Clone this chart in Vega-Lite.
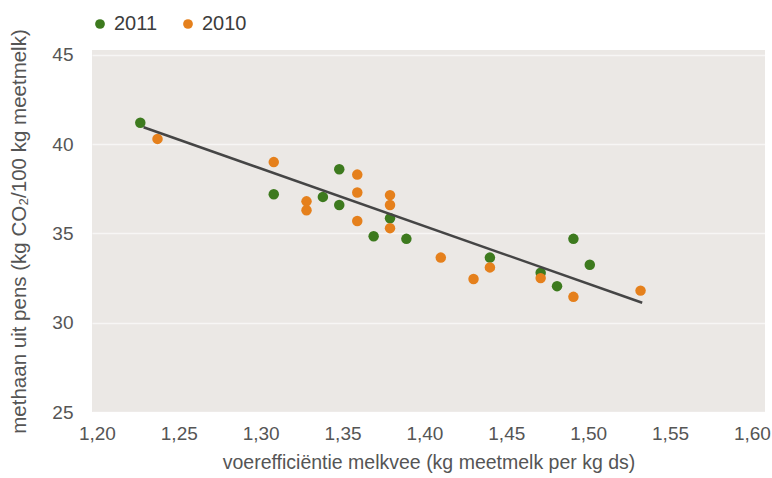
{
  "$schema": "https://vega.github.io/schema/vega-lite/v6.json",
  "width": 673,
  "height": 362,
  "autosize": {"type": "none"},
  "padding": {"left": 92, "top": 50, "right": 7, "bottom": 66},
  "background": "white",
  "config": {
    "view": {"fill": "#ebe8e5", "stroke": null},
    "font": "Liberation Sans"
  },
  "datasets": {
    "punten": [
      {"ve": 1.2265, "methaan": 41.2, "jaar": "2011"},
      {"ve": 1.308, "methaan": 37.2, "jaar": "2011"},
      {"ve": 1.338, "methaan": 37.05, "jaar": "2011"},
      {"ve": 1.348, "methaan": 38.6, "jaar": "2011"},
      {"ve": 1.348, "methaan": 36.6, "jaar": "2011"},
      {"ve": 1.369, "methaan": 34.85, "jaar": "2011"},
      {"ve": 1.379, "methaan": 35.85, "jaar": "2011"},
      {"ve": 1.389, "methaan": 34.7, "jaar": "2011"},
      {"ve": 1.44, "methaan": 33.65, "jaar": "2011"},
      {"ve": 1.471, "methaan": 32.8, "jaar": "2011"},
      {"ve": 1.481, "methaan": 32.05, "jaar": "2011"},
      {"ve": 1.491, "methaan": 34.7, "jaar": "2011"},
      {"ve": 1.501, "methaan": 33.25, "jaar": "2011"},
      {"ve": 1.237, "methaan": 40.3, "jaar": "2010"},
      {"ve": 1.308, "methaan": 39.0, "jaar": "2010"},
      {"ve": 1.328, "methaan": 36.8, "jaar": "2010"},
      {"ve": 1.328, "methaan": 36.3, "jaar": "2010"},
      {"ve": 1.359, "methaan": 38.3, "jaar": "2010"},
      {"ve": 1.359, "methaan": 37.3, "jaar": "2010"},
      {"ve": 1.359, "methaan": 35.7, "jaar": "2010"},
      {"ve": 1.379, "methaan": 37.15, "jaar": "2010"},
      {"ve": 1.379, "methaan": 36.6, "jaar": "2010"},
      {"ve": 1.379, "methaan": 35.3, "jaar": "2010"},
      {"ve": 1.41, "methaan": 33.65, "jaar": "2010"},
      {"ve": 1.43, "methaan": 32.45, "jaar": "2010"},
      {"ve": 1.44, "methaan": 33.1, "jaar": "2010"},
      {"ve": 1.471, "methaan": 32.5, "jaar": "2010"},
      {"ve": 1.491, "methaan": 31.45, "jaar": "2010"},
      {"ve": 1.532, "methaan": 31.8, "jaar": "2010"}
    ],
    "lijn": [
      {"ve": 1.2285, "methaan": 40.95},
      {"ve": 1.533, "methaan": 31.12}
    ]
  },
  "layer": [
    {
      "data": {"name": "punten"},
      "mark": {"type": "circle", "size": 110, "opacity": 1},
      "encoding": {
        "x": {
          "field": "ve", "type": "quantitative",
          "scale": {"domain": [1.197, 1.608], "nice": false, "zero": false},
          "axis": {
            "values": [1.2, 1.25, 1.3, 1.35, 1.4, 1.45, 1.5, 1.55, 1.6],
            "labelExpr": "replace(format(datum.value, '.2f'), '.', ',')",
            "grid": false, "ticks": false, "domain": false,
            "labelFontSize": 19, "labelColor": "#555555", "labelPadding": 12,
            "title": "voerefficiëntie melkvee (kg meetmelk per kg ds)",
            "titleFontSize": 19.5, "titleFontWeight": "normal", "titleColor": "#555555",
            "titlePadding": 10
          }
        },
        "y": {
          "field": "methaan", "type": "quantitative",
          "scale": {"domain": [25, 45.28], "nice": false, "zero": false},
          "axis": {
            "values": [25, 30, 35, 40, 45],
            "grid": true, "gridColor": "#ffffff", "gridWidth": 1.5, "gridOpacity": 0.6,
            "ticks": false, "domain": false,
            "labelFontSize": 19, "labelColor": "#555555", "labelPadding": 19,
            "labelBaseline": "middle", "labelOffset": 0,
            "title": "methaan uit pens (kg CO₂/100 kg meetmelk)",
            "titleFontSize": 20.5, "titleFontWeight": "normal", "titleColor": "#555555",
            "titlePadding": 22
          }
        },
        "color": {
          "field": "jaar", "type": "nominal",
          "scale": {"domain": ["2011", "2010"], "range": ["#3d7a1e", "#e5801c"]},
          "legend": {
            "orient": "none", "legendX": -2, "legendY": -36,
            "direction": "horizontal", "title": null,
            "labelFontSize": 20, "labelColor": "#3c3c3c",
            "symbolType": "circle", "symbolSize": 95, "symbolStrokeWidth": 0,
            "columnPadding": 20
          }
        }
      }
    },
    {
      "data": {"name": "lijn"},
      "mark": {"type": "line", "color": "#454545", "strokeWidth": 2.5},
      "encoding": {
        "x": {"field": "ve", "type": "quantitative"},
        "y": {"field": "methaan", "type": "quantitative"}
      }
    }
  ]
}
